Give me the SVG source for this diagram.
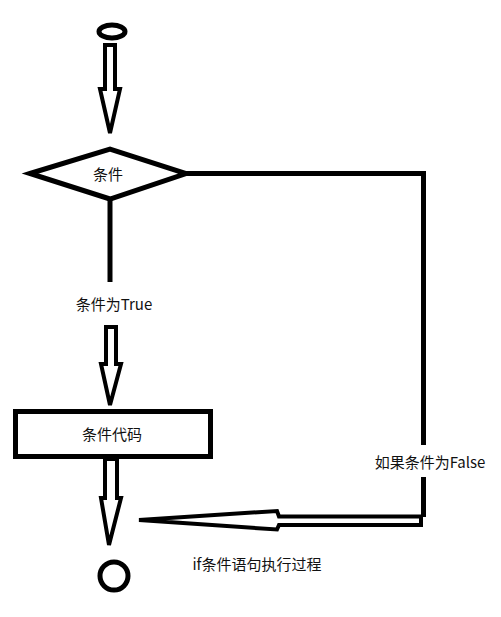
<svg xmlns="http://www.w3.org/2000/svg" width="501" height="617" viewBox="0 0 501 617">
<style>
.s{fill:#fff;stroke:#000;stroke-width:5}
.ln{fill:none;stroke:#000;stroke-width:5}
.ar{fill:#fff;stroke:#000;stroke-width:4;stroke-linejoin:miter}
.t{font-family:"Noto Sans CJK SC","Noto Sans",sans-serif;font-size:15px;fill:#111;text-anchor:middle;dominant-baseline:central}
</style>
<rect width="501" height="617" fill="#fff"/>
<g id="connectors">
<polygon class="ar" points="105,45 115,45 115,89 120,89 110,133 100,89 105,89"/>
<polyline class="ln" points="110,199 110,282"/>
<polygon class="ar" points="106,327 116,327 116,364 121,364 110,405 101,364 106,364"/>
<polygon class="ar" points="105,459 117,459 117,498 121,498 109,545 101,498 105,498"/>
<polyline class="ln" points="186,173.5 423.5,173.5 423.5,445"/>
<polyline class="ln" points="423.5,477 423.5,517"/>
<polygon class="ar" points="421,516.5 279,516.5 277,511 139,520 277,529.5 279,525 421,525"/>
<text class="t" x="114" y="303">条件为True</text>
<text class="t" x="430" y="461">如果条件为False</text>
</g>
<g id="start"><ellipse cx="112" cy="31.5" rx="13" ry="6.5" class="s" stroke-width="4"/></g>
<g id="cond"><polygon class="s" points="30,173.5 110,149 186,173.5 110,199"/><text class="t" x="108" y="173">条件</text></g>
<g id="code"><rect class="s" x="15.5" y="411.5" width="195" height="45"/><text class="t" x="112" y="433">条件代码</text></g>
<g id="end"><circle cx="114" cy="576" r="14" class="s" stroke-width="4"/></g>
<g id="caption"><text class="t" x="257" y="563">if条件语句执行过程</text></g>
</svg>
